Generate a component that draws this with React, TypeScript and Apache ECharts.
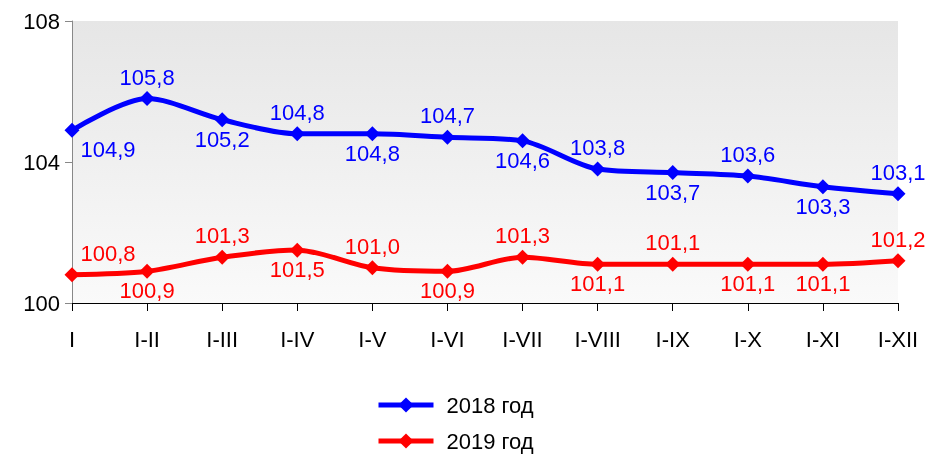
import React, { useEffect, useRef } from "react";
import * as echarts from "echarts";

const categories = ["I", "I-II", "I-III", "I-IV", "I-V", "I-VI", "I-VII", "I-VIII", "I-IX", "I-X", "I-XI", "I-XII"];
const values2018 = [104.9, 105.8, 105.2, 104.8, 104.8, 104.7, 104.6, 103.8, 103.7, 103.6, 103.3, 103.1];
const values2019 = [100.8, 100.9, 101.3, 101.5, 101.0, 100.9, 101.3, 101.1, 101.1, 101.1, 101.1, 101.2];
const labelPos2018 = ["bottom", "top", "bottom", "top", "bottom", "top", "bottom", "top", "bottom", "top", "bottom", "top"];
const labelPos2019 = ["top", "bottom", "top", "bottom", "top", "bottom", "top", "bottom", "top", "bottom", "bottom", "top"];
const seriesNames = ["2018 год", "2019 год"];
const yTicks = { min: 100, max: 108, interval: 4 };

const FONT = "Arial, 'Liberation Sans', sans-serif";

const fmt = (v: number) => v.toFixed(1).replace(".", ",");

function buildData(vals: number[], pos: string[], color: string) {
  return vals.map((v, i) => ({
    value: v,
    label: {
      show: true,
      position: pos[i],
      distance: pos[i] === "top" ? 3 : 1,
      offset: i === 0 ? [36, 0] : [0, 0],
      color,
      fontSize: 22,
      fontFamily: FONT,
      formatter: () => fmt(v),
    },
  }));
}

const legendCommon = {
  orient: "horizontal",
  left: 376,
  itemWidth: 55,
  itemHeight: 19,
  padding: 0,
  lineStyle: { width: 5 },
  textStyle: { fontSize: 22, fontFamily: FONT, color: "#000", padding: [0, 0, 0, 8] },
};

export default function App() {
  const ref = useRef<HTMLDivElement>(null);
  useEffect(() => {
    if (!ref.current) return;
    const chart = echarts.init(ref.current, null, { renderer: "svg" });
    chart.setOption({
      animation: false,
      grid: {
        left: 72,
        right: 30,
        top: 21,
        bottom: 153,
        show: true,
        borderWidth: 0,
        backgroundColor: new echarts.graphic.LinearGradient(0, 0, 0, 1, [
          { offset: 0, color: "#e6e6e6" },
          { offset: 1, color: "#fafafa" },
        ]),
      },
      legend: [
        { ...legendCommon, top: 394, data: [seriesNames[0]] },
        { ...legendCommon, top: 430, data: [seriesNames[1]] },
      ],
      xAxis: {
        type: "category",
        data: categories,
        boundaryGap: false,
        axisLine: { lineStyle: { color: "#000", width: 1 } },
        axisTick: { show: true, length: 8, lineStyle: { color: "#000" } },
        axisLabel: { fontSize: 22, fontFamily: FONT, color: "#000", margin: 25 },
        splitLine: { show: false },
      },
      yAxis: {
        type: "value",
        min: yTicks.min,
        max: yTicks.max,
        interval: yTicks.interval,
        axisLine: { show: true, lineStyle: { color: "#888", width: 1 } },
        axisTick: { show: true, length: 7, lineStyle: { color: "#888" } },
        axisLabel: { fontSize: 22, fontFamily: FONT, color: "#000", margin: 12 },
        splitLine: { show: false },
      },
      series: [
        {
          name: seriesNames[0],
          type: "line",
          smooth: 0.3,
          data: buildData(values2018, labelPos2018, "#0000ff"),
          symbol: "diamond",
          symbolSize: 15,
          itemStyle: { color: "#0000ff" },
          lineStyle: { color: "#0000ff", width: 5 },
        },
        {
          name: seriesNames[1],
          type: "line",
          smooth: 0.3,
          data: buildData(values2019, labelPos2019, "#ff0000"),
          symbol: "diamond",
          symbolSize: 15,
          itemStyle: { color: "#ff0000" },
          lineStyle: { color: "#ff0000", width: 5 },
        },
      ],
    });
    return () => chart.dispose();
  }, []);
  return <div ref={ref} style={{ position: "fixed", left: 0, top: 0, width: 928, height: 456 }} />;
}
